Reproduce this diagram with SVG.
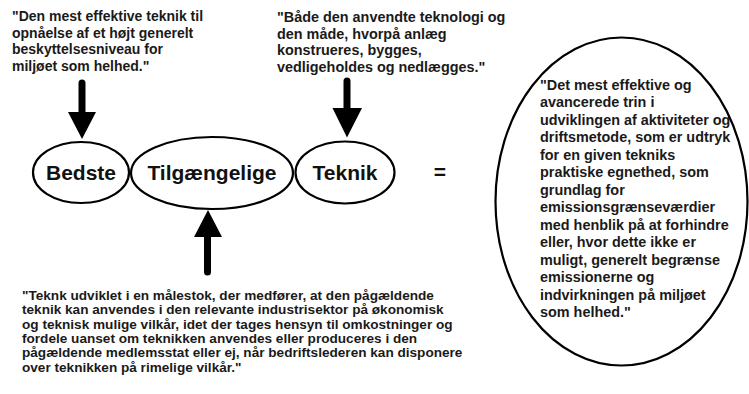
<svg xmlns="http://www.w3.org/2000/svg" width="749" height="394" viewBox="0 0 749 394">
<style>
.bg{fill:#fff}
.node{fill:#fff;stroke:#000;stroke-width:2.2}
.lbl{font-family:"Liberation Sans",Arial,sans-serif;font-weight:bold;font-size:21px;fill:#111;text-anchor:middle}
.txt{font-family:"Liberation Sans",Arial,sans-serif;font-weight:bold;font-size:14px;fill:#1a1a1a}
.big{font-size:14.4px}
.bot{font-size:13.6px}
.arrow{fill:#000;stroke:none}
</style>
<rect class="bg" x="0" y="0" width="749" height="394"/>
<g id="quote-top-left">
<text class="txt" x="12" y="21">"Den mest effektive teknik til</text>
<text class="txt" x="12" y="37.5">opnåelse af et højt generelt</text>
<text class="txt" x="12" y="54">beskyttelsesniveau for</text>
<text class="txt" x="12" y="70.5">miljøet som helhed."</text>
</g>
<g id="quote-top-middle">
<text class="txt big" x="277" y="22">"Både den anvendte teknologi og</text>
<text class="txt big" x="277" y="38.5">den måde, hvorpå anlæg</text>
<text class="txt big" x="277" y="55">konstrueres, bygges,</text>
<text class="txt big" x="277" y="71.5">vedligeholdes og nedlægges."</text>
</g>
<g id="node-bedste">
<ellipse class="node" cx="81" cy="172.5" rx="48" ry="30.5"/>
<text class="lbl" x="81" y="179.5">Bedste</text>
</g>
<g id="node-tilgaengelige">
<ellipse class="node" cx="212" cy="173" rx="81" ry="36"/>
<text class="lbl" x="212" y="179.5">Tilgængelige</text>
</g>
<g id="node-teknik">
<ellipse class="node" cx="345" cy="172.5" rx="49.5" ry="31"/>
<text class="lbl" x="345" y="179.5">Teknik</text>
</g>
<g id="equals">
<text class="lbl" x="440" y="179">=</text>
</g>
<g id="node-definition">
<ellipse class="node" cx="621.5" cy="201.5" rx="126" ry="164"/>
<text class="txt big" x="540" y="89.5">"Det mest effektive og</text>
<text class="txt big" x="540" y="107">avancerede trin i</text>
<text class="txt big" x="540" y="124.5">udviklingen af aktiviteter og</text>
<text class="txt big" x="540" y="142">driftsmetode, som er udtryk</text>
<text class="txt big" x="540" y="159.5">for en given tekniks</text>
<text class="txt big" x="540" y="177">praktiske egnethed, som</text>
<text class="txt big" x="540" y="194.5">grundlag for</text>
<text class="txt big" x="540" y="212">emissionsgrænseværdier</text>
<text class="txt big" x="540" y="229.5">med henblik på at forhindre</text>
<text class="txt big" x="540" y="247">eller, hvor dette ikke er</text>
<text class="txt big" x="540" y="264.5">muligt, generelt begrænse</text>
<text class="txt big" x="540" y="282">emissionerne og</text>
<text class="txt big" x="540" y="299.5">indvirkningen på miljøet</text>
<text class="txt big" x="540" y="317">som helhed."</text>
</g>
<g id="quote-bottom">
<text class="txt bot" x="22" y="300">"Teknk udviklet i en målestok, der medfører, at den pågældende</text>
<text class="txt bot" x="22" y="314.3">teknik kan anvendes i den relevante industrisektor på økonomisk</text>
<text class="txt bot" x="22" y="328.6">og teknisk mulige vilkår, idet der tages hensyn til omkostninger og</text>
<text class="txt bot" x="22" y="342.9">fordele uanset om teknikken anvendes eller produceres i den</text>
<text class="txt bot" x="22" y="357.2">pågældende medlemsstat eller ej, når bedriftslederen kan disponere</text>
<text class="txt bot" x="22" y="371.5">over teknikken på rimelige vilkår."</text>
</g>
<g id="connectors">
<path class="arrow" d="M78.5,83 A3.5,3.5 0 0 1 85.5,83 L85.5,112 L96,112 L82,139 L68,112 L78.5,112 Z"/>
<path class="arrow" d="M343.5,81 A3.5,3.5 0 0 1 350.5,81 L350.5,108 L362,108 L347,137.5 L332.5,108 L343.5,108 Z"/>
<path class="arrow" d="M204,272 A3.5,3.5 0 0 0 211,272 L211,237 L222,237 L208,210 L194,237 L204,237 Z"/>
</g>
</svg>
